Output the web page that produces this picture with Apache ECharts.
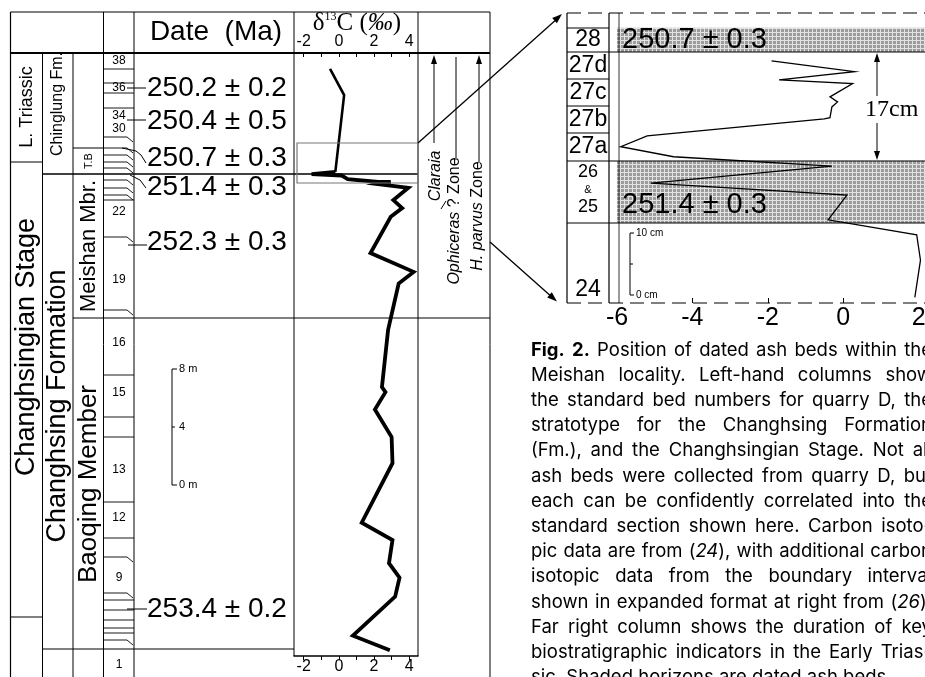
<!DOCTYPE html>
<html lang="en">
<head>
<meta charset="UTF-8">
<title>Meishan ash beds</title>
<style>
  html, body { margin: 0; padding: 0; background: #fff; }
  #main { width: 925px; height: 677px; }
</style>
</head>
<body>
<div id="main"></div>
<script src="https://cdn.jsdelivr.net/npm/echarts@6/dist/echarts.min.js"></script>
<script>
// d13C (per mil) down the Meishan section, height above base in metres
const mainD13C    = [-0.5, 0.3, -0.2, -1.55, 0.15, 0.5, 2.25, 2.95, 2.25, 3.95, 3.1, 3.6, 2.95, 1.8, 4.25, 3.4, 2.8, 2.45, 2.65, 2.05, 3.0, 3.05, 1.3, 3.05, 2.85, 3.45, 3.2, 0.8, 2.9];
const mainHeightM = [40.5, 38.7, 33.4, 33.25, 33.15, 32.9, 32.7, 32.7, 32.55, 32.3, 31.45, 30.9, 30.3, 27.8, 26.5, 25.7, 22.5, 18.55, 18.2, 17.0, 15.1, 13.3, 9.2, 8.0, 6.4, 5.4, 4.1, 1.4, 0.4];

// boundary interval (beds 24-28), height in cm
const insetD13C     = [-1.9, 0.3, -1.7, 0.25, -0.35, -0.15, -0.3, -0.35, -0.5, -5.2, -5.9, -4.5, -0.3, -5.1, 0.1, -0.4, 1.95, 2.05, 1.9];
const insetHeightCm = [38.4, 36.7, 35.4, 34.8, 32.7, 31.9, 31.1, 29.4, 29.2, 26.5, 24.8, 23.2, 21.7, 19.0, 17.1, 13.2, 10.8, 6.8, 0.9];
const ashBandsCm    = [[39.8, 43.65], [12.7, 22.55]];

const mainTicks  = [-2, 0, 2, 4];
const mainMinor  = [-2, -1, 0, 1, 2, 3, 4];
const insetTicks = [-6, -4, -2, 0, 2];
const insetMinor = [-4, -2, 0];

const dates      = ['250.2 ± 0.2', '250.4 ± 0.5', '250.7 ± 0.3', '251.4 ± 0.3', '252.3 ± 0.3', '253.4 ± 0.2'];
const bedNumbers = ['38', '36', '34', '30', '22', '19', '16', '15', '13', '12', '9', '1'];
const insetBeds  = ['28', '27d', '27c', '27b', '27a', '26', '&', '25', '24'];
const bandDates  = ['250.7 ± 0.3', '251.4 ± 0.3'];

const captionLines = [
  'Fig. 2. Position of dated ash beds within the',
  'Meishan locality. Left-hand columns show',
  'the standard bed numbers for quarry D, the',
  'stratotype for the Changhsing Formation',
  '(Fm.), and the Changhsingian Stage. Not all',
  'ash beds were collected from quarry D, but',
  'each can be confidently correlated into the',
  'standard section shown here. Carbon isoto-',
  'pic data are from (24), with additional carbon',
  'isotopic data from the boundary interval',
  'shown in expanded format at right from (26).',
  'Far right column shows the duration of key',
  'biostratigraphic indicators in the Early Trias-',
  'sic. Shaded horizons are dated ash beds.'
];

const SANS = '"Liberation Sans"';
const SERIF = '"Liberation Serif"';
const G = [];

function ln(x1, y1, x2, y2, w, dash, color) {
  G.push({ type: 'line', z: 10, silent: true, shape: { x1, y1, x2, y2 },
    style: { stroke: color || '#000', lineWidth: w || 1, lineDash: dash || null } });
}
function pl(points, w) {
  G.push({ type: 'polyline', z: 10, silent: true, shape: { points },
    style: { stroke: '#000', lineWidth: w || 1, fill: null } });
}
function arrow(x, y, dx, dy, len, half) {
  const L = Math.hypot(dx, dy), ux = dx / L, uy = dy / L;
  const bx = x - ux * len, by = y - uy * len;
  G.push({ type: 'polygon', z: 10, silent: true,
    shape: { points: [[x, y], [bx - uy * half, by + ux * half], [bx + uy * half, by - ux * half]] },
    style: { fill: '#000' } });
}
function rich(size, family) {
  return {
    n: { fontSize: size, fontFamily: family },
    i: { fontSize: size, fontFamily: family, fontStyle: 'italic' },
    b: { fontSize: size, fontFamily: family, fontWeight: 'bold' }
  };
}
function tx(x, y, text, size, o) {
  o = o || {};
  G.push({ type: 'text', z: 20, silent: true, x, y, rotation: o.rot || 0,
    style: { text, font: ((o.style || '') + ' ' + size + 'px ' + (o.family || SANS)).trim(),
      fill: '#000', textAlign: o.align || 'center', textVerticalAlign: o.va || 'middle', rich: o.rich } });
}
const UP = Math.PI / 2;

// ---- left table frame ----
const cx = [10.5, 42.5, 73, 103.5, 134, 294, 418, 490];
ln(cx[0], 12, cx[7], 12, 1.2);
ln(cx[0], 53, cx[7], 53, 2);
ln(cx[0], 12, cx[0], 677, 1.2);
ln(cx[1], 53, cx[1], 677);
ln(cx[2], 53, cx[2], 677);
ln(cx[3], 12, cx[3], 677);
ln(cx[4], 12, cx[4], 677);
ln(cx[5], 12, cx[5], 656);
ln(cx[6], 12, cx[6], 656);
ln(cx[7], 12, cx[7], 677);
ln(cx[0], 162, cx[1], 162);
ln(cx[0], 617, cx[1], 617);
ln(cx[2], 148, cx[3], 148);
ln(cx[1], 174, cx[6], 174, 1.6);
ln(cx[2], 318, cx[7], 318);
ln(cx[1], 649, cx[5], 649, 1.2);

// bed boundaries in the bed-number column
[69, 83, 93, 108, 200, 375, 417, 437, 502, 538, 600, 610, 620, 628, 633].forEach(y => ln(cx[3], y, cx[4], y, 0.9));
[137, 148, 155, 162, 168, 180, 188, 195, 237, 310, 557, 593, 640].forEach(y => pl([[cx[3], y], [127, y], [133, y + 5]], 0.9));

const bedY = [61, 88, 116, 129, 212, 280, 343, 393, 470, 518, 578, 665];
bedNumbers.forEach((b, i) => tx(119, bedY[i], b, 12));

// dated ash beds and their pointers
const dateY = [88, 121, 158, 187, 242, 609];
dates.forEach((d, i) => tx(147, dateY[i], d, 28, { align: 'left' }));
ln(127, 88, 146, 88);
ln(127, 120, 146, 120);
pl([[122, 148], [136, 151], [141, 155], [146, 163]]);
pl([[130, 175], [140, 180], [146, 188]]);
ln(128, 245, 147, 245);
ln(127, 609, 147, 609);

// column titles
tx(216, 32, 'Date  (Ma)', 28);
tx(27, 107, 'L. Triassic', 18, { rot: UP });
tx(58, 104, 'Chinglung Fm.', 16, { rot: UP });
tx(89, 161, 'T.B', 11, { rot: UP });
tx(89, 246, 'Meishan Mbr.', 22, { rot: UP });
tx(27, 347, 'Changhsingian Stage', 27, { rot: UP });
tx(58, 406, 'Changhsing Formation', 27, { rot: UP });
tx(89, 484, 'Baoqing Member', 26, { rot: UP });
G.push({ type: 'text', z: 20, silent: true, x: 357, y: 23,
  style: { text: '{g|δ}{s|13}{g|C (}{i|‰}{g|)}', fill: '#000', textAlign: 'center', textVerticalAlign: 'middle',
    rich: { g: { fontSize: 25, fontFamily: 'Liberation Serif' },
            s: { fontSize: 12, fontFamily: 'Liberation Serif', verticalAlign: 'top' },
            i: { fontSize: 25, fontFamily: 'Liberation Serif', fontStyle: 'italic' } } } });

// metre scale
ln(172, 369, 172, 485);
ln(172, 369, 177, 369); ln(172, 427, 175, 427); ln(172, 485, 177, 485);
tx(179, 369, '8 m', 11, { align: 'left' });
tx(179, 427, '4', 11, { align: 'left' });
tx(179, 485, '0 m', 11, { align: 'left' });

// expanded interval box on the main curve
G.push({ type: 'rect', z: 10, silent: true, shape: { x: 297, y: 143, width: 121, height: 40 },
  style: { fill: null, stroke: '#777', lineWidth: 1.2 } });

// biostratigraphic ranges
ln(434, 60, 434, 143); arrow(434, 55, 0, -1, 9, 3);
ln(456, 57, 456, 160);
ln(479, 60, 479, 163); arrow(479, 55, 0, -1, 9, 3);
ln(446, 201, 441, 209);
const zr = rich(16, 'Liberation Sans');
tx(436, 176, '{i|Claraia}', 16, { rot: UP, rich: zr });
tx(455, 221, '{i|Ophiceras}{n| ? Zone}', 16, { rot: UP, rich: zr });
tx(478, 216, '{i|H. parvus}{n| Zone}', 16, { rot: UP, rich: zr });

// connectors to the inset
ln(418, 143, 558, 18, 1.3); arrow(562, 14, 144, -129, 10, 3.5);
ln(490, 242, 553, 298, 1.3); arrow(557, 301.5, 67, 59, 10, 3.5);

// ---- inset frame ----
ln(567, 13, 925, 13, 1.2, [14, 7]);
ln(567, 303, 925, 303, 1.2, [14, 7]);
ln(567, 13, 567, 303, 1.2);
ln(609, 13, 609, 303, 1.2);
ln(619, 13, 619, 303, 0.8);
[28, 79, 106, 133].forEach(y => ln(567, y, 609, y, 1.2));
[52, 161, 223].forEach(y => ln(567, y, 925, y, 1.2));
const insetBedY = [40, 66, 93, 120, 147, 172, 190, 207, 290];
insetBeds.forEach((b, i) => {
  const size = b === '&' ? 11 : (b === '26' || b === '25') ? 18 : 23;
  tx(588, insetBedY[i], b, size);
});
tx(622, 40, bandDates[0], 29, { align: 'left' });
tx(622, 205, bandDates[1], 29, { align: 'left' });
// cm scale
ln(630, 233, 630, 295);
ln(630, 233, 634, 233); ln(630, 264, 633, 264); ln(630, 295, 634, 295);
tx(636, 233, '10 cm', 10, { align: 'left' });
tx(636, 295, '0 cm', 10, { align: 'left' });
// 17 cm span
ln(877, 60, 877, 96); ln(877, 123, 877, 154);
arrow(877, 53, 0, -1, 9, 3); arrow(877, 160, 0, 1, 9, 3);
tx(865, 110, '17cm', 24, { align: 'left', family: SERIF });

// ---- caption, justified ----
const mctx = document.createElement('canvas').getContext('2d');
const CAPFAM = 'Inter';
const capSize = 18.5, capX = 531, capW = 401, capY0 = 350, capDY = 25.2;
const capRich = rich(capSize, CAPFAM);
function wordSegs(w, li, wi) {
  if (li === 0 && wi < 2) return [[w, 'b']];
  const m = w.match(/^\((\d+)\)(.*)$/);
  if (m) return [['(', 'n'], [m[1], 'i'], [')' + m[2], 'n']];
  return [[w, 'n']];
}
function segWidth(segs) {
  return segs.reduce((s, g) => {
    mctx.font = (g[1] === 'b' ? 'bold ' : g[1] === 'i' ? 'italic ' : '') + capSize + 'px ' + CAPFAM;
    return s + mctx.measureText(g[0]).width;
  }, 0);
}
mctx.font = capSize + 'px ' + CAPFAM;
const spaceW = mctx.measureText(' ').width;
captionLines.forEach((line, li) => {
  const words = line.split(' ');
  const segs = words.map((w, wi) => wordSegs(w, li, wi));
  const widths = segs.map(segWidth);
  const total = widths.reduce((a, b) => a + b, 0);
  let gap = li < captionLines.length - 1 ? (capW - total) / (words.length - 1) : spaceW;
  gap = Math.max(gap, spaceW * 0.7);
  let x = capX;
  segs.forEach((sg, k) => {
    tx(x, capY0 + li * capDY, sg.map(g => '{' + g[1] + '|' + g[0] + '}').join(''), capSize,
      { align: 'left', rich: capRich, family: CAPFAM });
    x += widths[k] + gap;
  });
});

// ---- stipple for the dated ash beds ----
const pc = document.createElement('canvas');
pc.width = 4; pc.height = 4;
const pctx = pc.getContext('2d');
pctx.fillStyle = '#9c9c9c'; pctx.fillRect(0, 0, 4, 4);
pctx.fillStyle = '#e2e2e2'; pctx.fillRect(0, 0, 4, 1); pctx.fillRect(0, 0, 1, 4);

const pairs = (xs, ys) => xs.map((v, i) => [v, ys[i]]);

const chart = echarts.init(document.getElementById('main'));
chart.setOption({
  animation: false,
  backgroundColor: '#fff',
  textStyle: { fontFamily: 'Liberation Sans', color: '#000' },
  grid: [
    { left: 294, top: 53, width: 124, height: 603, outerBoundsMode: 'none' },
    { left: 617, top: 13, width: 308, height: 290, outerBoundsMode: 'none' }
  ],
  xAxis: [
    { type: 'value', gridIndex: 0, position: 'bottom', min: -2.55, max: 4.5,
      axisLine: { lineStyle: { color: '#000', width: 1.5 } },
      axisTick: { length: 4, customValues: mainMinor, lineStyle: { color: '#000' } },
      axisLabel: { customValues: mainTicks, margin: 3, fontSize: 16, color: '#000' },
      splitLine: { show: false } },
    { type: 'value', gridIndex: 0, position: 'top', min: -2.55, max: 4.5,
      axisLine: { show: false },
      axisTick: { inside: true, length: 4, customValues: mainMinor, lineStyle: { color: '#000' } },
      axisLabel: { customValues: mainTicks, margin: 3, fontSize: 16, color: '#000' },
      splitLine: { show: false } },
    { type: 'value', gridIndex: 1, position: 'bottom', min: -6, max: 2.17,
      axisLine: { show: false },
      axisTick: { inside: true, length: 5, customValues: insetMinor, lineStyle: { color: '#000' } },
      axisLabel: { customValues: insetTicks, margin: 3, fontSize: 25, color: '#000' },
      splitLine: { show: false } }
  ],
  yAxis: [
    { type: 'value', gridIndex: 0, min: 0, max: 41.6, show: false },
    { type: 'value', gridIndex: 1, min: 0, max: 46, show: false }
  ],
  graphic: { elements: G },
  series: [
    { type: 'line', xAxisIndex: 0, yAxisIndex: 0, symbol: 'none', silent: true,
      data: pairs(mainD13C.slice(0, 3), mainHeightM.slice(0, 3)),
      lineStyle: { color: '#000', width: 2.6, join: 'miter' } },
    { type: 'line', xAxisIndex: 0, yAxisIndex: 0, symbol: 'none', silent: true,
      data: pairs(mainD13C.slice(2), mainHeightM.slice(2)),
      lineStyle: { color: '#000', width: 3.8, join: 'miter' } },
    { type: 'line', xAxisIndex: 2, yAxisIndex: 1, symbol: 'none', silent: true,
      data: pairs(insetD13C, insetHeightCm),
      lineStyle: { color: '#000', width: 1.3, join: 'miter' },
      markArea: { silent: true, itemStyle: { color: { image: pc, repeat: 'repeat' } },
        data: ashBandsCm.map(b => [{ yAxis: b[0] }, { yAxis: b[1] }]) } }
  ]
});
</script>
</body>
</html>
